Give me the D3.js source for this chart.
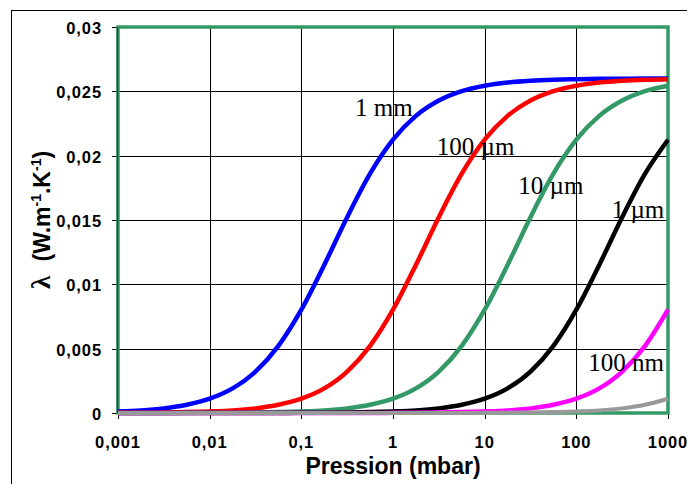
<!DOCTYPE html>
<html>
<head>
<meta charset="utf-8">
<script src="https://cdn.jsdelivr.net/npm/d3@7"></script>
<style>
  body { margin: 0; background: #ffffff; }
  .tick--label { font-family: "Liberation Sans", Arial, sans-serif; font-weight: bold; font-size: 16.5px; letter-spacing: 0.9px; fill: #000000; }
  .axis--title { font-family: "Liberation Sans", Arial, sans-serif; font-weight: bold; font-size: 23px; fill: #000000; }
  .curve--label { font-family: "Liberation Serif", "Times New Roman", serif; font-size: 25px; fill: #000000; }
</style>
</head>
<body>
<div id="chart"></div>
<script>
// pressure in mbar, quarter decades from 0,001 to 1000
const pressure = [0.001, 0.001778, 0.003162, 0.005623, 0.01, 0.01778, 0.03162, 0.05623,
    0.1, 0.1778, 0.3162, 0.5623, 1, 1.778, 3.162, 5.623, 10, 17.78, 31.62, 56.23,
    100, 177.8, 316.2, 562.3, 1000];

// thermal conductivity (W.m-1.K-1)
const pore1mm = [0.00012, 0.00020, 0.00036, 0.00064, 0.00111, 0.00191, 0.00322, 0.00522,
    0.00803, 0.01151, 0.01522, 0.01860, 0.02124, 0.02309, 0.02428, 0.02501, 0.02543,
    0.02568, 0.02582, 0.02590, 0.02594, 0.02597, 0.02598, 0.02599, 0.02599];
const pore100um = [0.00001, 0.00002, 0.00004, 0.00007, 0.00012, 0.00020, 0.00036, 0.00064,
    0.00111, 0.00191, 0.00322, 0.00522, 0.00803, 0.01151, 0.01522, 0.01860, 0.02124,
    0.02309, 0.02428, 0.02501, 0.02543, 0.02568, 0.02582, 0.02590, 0.02594];
const pore10um = [0, 0, 0, 0.00001, 0.00001, 0.00002, 0.00004, 0.00007, 0.00012, 0.00020,
    0.00036, 0.00064, 0.00111, 0.00191, 0.00322, 0.00522, 0.00803, 0.01151, 0.01522,
    0.01860, 0.02124, 0.02309, 0.02428, 0.02501, 0.02543];
const pore1um = [0, 0, 0, 0, 0, 0, 0, 0, 0.00001, 0.00002, 0.00004, 0.00007, 0.00012,
    0.00020, 0.00036, 0.00064, 0.00111, 0.00191, 0.00322, 0.00522, 0.00803, 0.01151,
    0.01522, 0.01860, 0.02124];
const pore100nm = [0, 0, 0, 0, 0, 0, 0, 0, 0, 0, 0, 0, 0.00001, 0.00002, 0.00004, 0.00007,
    0.00012, 0.00020, 0.00036, 0.00064, 0.00111, 0.00191, 0.00322, 0.00522, 0.00803];
const pore10nm = [0, 0, 0, 0, 0, 0, 0, 0, 0, 0, 0, 0, 0, 0, 0, 0, 0.00001, 0.00002,
    0.00004, 0.00007, 0.00012, 0.00020, 0.00036, 0.00064, 0.00111];

const seriesNames = ["1 mm", "100 µm", "10 µm", "1 µm", "100 nm", ""];
const seriesValues = [pore1mm, pore100um, pore10um, pore1um, pore100nm, pore10nm];
const seriesColors = ["#0000ff", "#ff0000", "#339966", "#000000", "#ff00ff", "#999999"];

const xTicks = [0.001, 0.01, 0.1, 1, 10, 100, 1000];
const xTickLabels = ["0,001", "0,01", "0,1", "1", "10", "100", "1000"];
const yTicks = [0, 0.005, 0.01, 0.015, 0.02, 0.025, 0.03];
const yTickLabels = ["0", "0,005", "0,01", "0,015", "0,02", "0,025", "0,03"];

// Title Draw chart
function drawChart() {
    const width = 687;
    const height = 484;
    const left = 118;
    const right = 668;
    const top = 27;
    const bottom = 413;

    const svg = d3.select("#chart")
        .append("svg")
        .attr("width", width)
        .attr("height", height);

    // outer frame of the chart object
    svg.append("rect")
        .attr("x", 11.5)
        .attr("y", 10.5)
        .attr("width", 720)
        .attr("height", 520)
        .attr("fill", "none")
        .attr("stroke", "#000000")
        .attr("stroke-width", 1);

    const xScale = d3.scaleLog()
        .domain([0.001, 1000])
        .range([left, right]);

    const yScale = d3.scaleLinear()
        .domain([0, 0.03])
        .range([bottom, top]);

    const crisp = v => Math.round(v) + 0.5;

    // grid
    xTicks.forEach(function(d) {
        svg.append("line")
            .attr("x1", crisp(xScale(d)))
            .attr("x2", crisp(xScale(d)))
            .attr("y1", top)
            .attr("y2", bottom + 6)
            .attr("stroke", "#000000")
            .attr("stroke-width", 1);
    });

    yTicks.forEach(function(d) {
        svg.append("line")
            .attr("x1", left - 6)
            .attr("x2", right)
            .attr("y1", crisp(yScale(d)))
            .attr("y2", crisp(yScale(d)))
            .attr("stroke", "#000000")
            .attr("stroke-width", 1);
    });

    // plot area border
    svg.append("rect")
        .attr("x", left)
        .attr("y", top)
        .attr("width", right - left)
        .attr("height", bottom - top)
        .attr("fill", "none")
        .attr("stroke", "#339966")
        .attr("stroke-width", 3.5);

    svg.append("line")
        .attr("x1", crisp(left - 1))
        .attr("x2", crisp(left - 1))
        .attr("y1", top)
        .attr("y2", bottom)
        .attr("stroke", "#1d4d33")
        .attr("stroke-width", 1.5);

    // tick labels
    xTicks.forEach(function(d, i) {
        svg.append("text")
            .attr("class", "tick--label")
            .attr("x", xScale(d))
            .attr("y", 448)
            .attr("text-anchor", "middle")
            .text(xTickLabels[i]);
    });

    yTicks.forEach(function(d, i) {
        svg.append("text")
            .attr("class", "tick--label")
            .attr("x", 102)
            .attr("y", yScale(d) + 7)
            .attr("text-anchor", "end")
            .text(yTickLabels[i]);
    });

    // curves
    const line = d3.line()
        .x((d, i) => xScale(pressure[i]))
        .y(d => yScale(d))
        .curve(d3.curveMonotoneX);

    seriesValues.forEach(function(values, i) {
        svg.append("path")
            .attr("d", line(values))
            .attr("fill", "none")
            .attr("stroke", seriesColors[i])
            .attr("stroke-width", i === 5 ? 4 : 4.5)
            .attr("stroke-linejoin", "round");
    });

    // curve labels, anchored in data units
    const labelAnchors = [[0.385, 0.0231], [3.0, 0.02005], [23.3, 0.01702], [243, 0.01513], [135, 0.00329]];
    labelAnchors.forEach(function(a, i) {
        svg.append("text")
            .attr("class", "curve--label")
            .attr("x", xScale(a[0]))
            .attr("y", yScale(a[1]))
            .text(seriesNames[i]);
    });

    // axis titles
    svg.append("text")
        .attr("class", "axis--title")
        .attr("x", (left + right) / 2)
        .attr("y", 474)
        .attr("text-anchor", "middle")
        .text("Pression (mbar)");

    const yTitle = svg.append("text")
        .attr("class", "axis--title")
        .attr("text-anchor", "middle")
        .attr("transform", "translate(50,220) rotate(-90)");

    yTitle.append("tspan")
        .attr("font-family", "'Liberation Serif', serif")
        .attr("font-size", 27)
        .text("λ");
    yTitle.append("tspan")
        .attr("dx", 8)
        .text(" (W.m");
    yTitle.append("tspan")
        .attr("font-size", 14)
        .attr("dy", -9)
        .text("-1");
    yTitle.append("tspan")
        .attr("dy", 9)
        .text(".K");
    yTitle.append("tspan")
        .attr("font-size", 14)
        .attr("dy", -9)
        .text("-1");
    yTitle.append("tspan")
        .attr("dy", 9)
        .text(")");
}

drawChart();
</script>
</body>
</html>
